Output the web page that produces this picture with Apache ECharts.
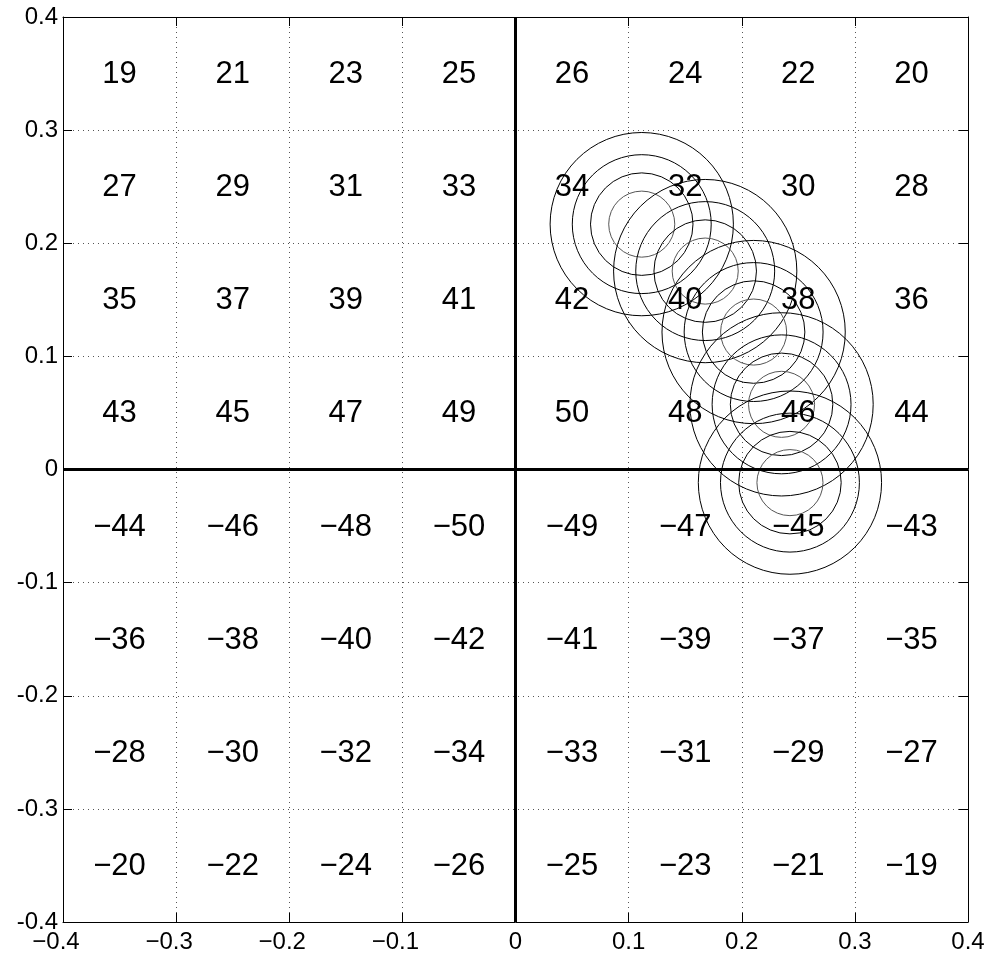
<!DOCTYPE html>
<html>
<head>
<meta charset="utf-8">
<script src="https://cdn.jsdelivr.net/npm/echarts@6/dist/echarts.min.js"></script>
<style>
html,body{margin:0;padding:0;background:#fff;}
#chart{width:990px;height:959px;}
</style>
</head>
<body>
<div id="chart"></div>
<script>
// ---- data ----
const xCenters = [-0.35, -0.25, -0.15, -0.05, 0.05, 0.15, 0.25, 0.35];
const yCenters = [0.35, 0.25, 0.15, 0.05, -0.05, -0.15, -0.25, -0.35];
const cellValues = [
  [19, 21, 23, 25, 26, 24, 22, 20],
  [27, 29, 31, 33, 34, 32, 30, 28],
  [35, 37, 39, 41, 42, 40, 38, 36],
  [43, 45, 47, 49, 50, 48, 46, 44],
  [-44, -46, -48, -50, -49, -47, -45, -43],
  [-36, -38, -40, -42, -41, -39, -37, -35],
  [-28, -30, -32, -34, -33, -31, -29, -27],
  [-20, -22, -24, -26, -25, -23, -21, -19]
];
const circleCentersX = [0.1116, 0.1677, 0.2105, 0.2352, 0.2426];
const circleCentersY = [0.2169, 0.1754, 0.1215, 0.0576, -0.0116];
const circleRadii = [0.081, 0.0614, 0.0453, 0.0292];
const axisMin = -0.4, axisMax = 0.4, axisStep = 0.1;

// ---- build series data ----
const textData = [];
yCenters.forEach((y, r) => {
  xCenters.forEach((x, c) => {
    textData.push([x, y, cellValues[r][c]]);
  });
});
const circleData = [];
circleCentersX.forEach((cx, i) => {
  circleRadii.forEach((rad, k) => {
    circleData.push([cx, circleCentersY[i], rad, k]);
  });
});

const FONT = '"Liberation Sans", Arial, Helvetica, sans-serif';
const fmtNum = v => (v < 0 ? '\u2212' + Math.abs(v) : String(v));
const isZero = v => Math.abs(v) < 1e-9;

const chart = echarts.init(document.getElementById('chart'), null, {renderer: 'canvas'});

const baseAxis = {
  type: 'value', min: axisMin, max: axisMax, interval: axisStep,
  axisLine: {show: true, onZero: false, lineStyle: {color: '#000', width: 1}},
  axisTick: {show: true, inside: true, length: 9, lineStyle: {color: '#000', width: 1}},
  splitLine: {show: false}
};

const option = {
  backgroundColor: '#fff',
  animation: false,
  grid: {left: 63, top: 17, right: 22, bottom: 37, containLabel: false},
  xAxis: [
    Object.assign({}, baseAxis, {
      position: 'bottom',
      splitLine: {show: true, lineStyle: {color: '#555', width: 1, type: [1, 4]}},
      axisLabel: {
        show: true, margin: 8, color: '#000', fontSize: 24, fontFamily: FONT,
        formatter: v => isZero(v) ? '0' : (v < 0 ? '\u2212' + Math.abs(v).toFixed(1) + '{sp|}' : v.toFixed(1)),
        rich: {sp: {width: 14}}
      }
    }),
    Object.assign({}, baseAxis, {position: 'top', axisLabel: {show: false}})
  ],
  yAxis: [
    Object.assign({}, baseAxis, {
      position: 'left',
      splitLine: {show: true, lineStyle: {color: '#555', width: 1, type: [1, 4]}},
      axisLabel: {
        show: true, margin: 5, color: '#000', fontSize: 24, fontFamily: FONT,
        formatter: v => isZero(v) ? '0' : v.toFixed(1)
      }
    }),
    Object.assign({}, baseAxis, {position: 'right', axisLabel: {show: false}})
  ],
  series: [
    {
      type: 'line', data: [], xAxisIndex: 0, yAxisIndex: 0,
      markLine: {
        silent: true, symbol: 'none', label: {show: false},
        lineStyle: {color: '#000', width: 3, type: 'solid'},
        data: [{yAxis: 0}, {xAxis: 0}]
      }
    },
    {
      type: 'custom', xAxisIndex: 0, yAxisIndex: 0, silent: true,
      data: circleData,
      renderItem: (params, api) => {
        const c = api.coord([api.value(0), api.value(1)]);
        const r = api.size([api.value(2), 0])[0];
        const inner = api.value(3) === 3;
        return {
          type: 'circle',
          shape: {cx: c[0], cy: c[1], r: r},
          style: {fill: 'none', stroke: inner ? '#555' : '#000', lineWidth: 1}
        };
      }
    },
    {
      type: 'custom', xAxisIndex: 0, yAxisIndex: 0, silent: true,
      data: textData,
      renderItem: (params, api) => {
        const c = api.coord([api.value(0), api.value(1)]);
        return {
          type: 'text',
          x: c[0], y: c[1] + 1,
          style: {
            text: fmtNum(api.value(2)),
            fill: '#000',
            font: '31px ' + FONT,
            align: 'center', verticalAlign: 'middle'
          }
        };
      }
    }
  ]
};
chart.setOption(option);
</script>
</body>
</html>
